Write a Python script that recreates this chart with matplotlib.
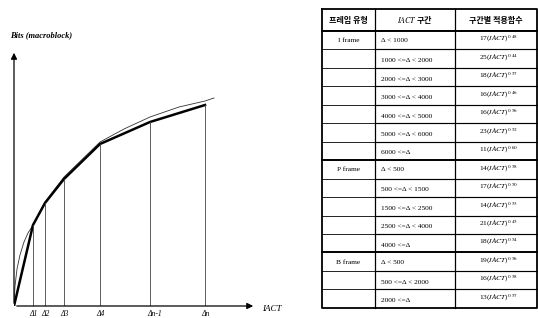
import matplotlib.pyplot as plt

plt.rcParams['font.family'] = ['Liberation Serif', 'Noto Sans CJK KR', 'DejaVu Sans']
plt.rcParams['mathtext.fontset'] = 'stix'

# breakpoints of the piecewise approximation (pixel-ish units)
bp_labels = ['Δ1', 'Δ2', 'Δ3', 'Δ4', 'Δn-1', 'Δn']
bp_x = [19, 31, 50, 86, 136, 191]
bp_y = [81, 103, 127, 162, 184, 201]

# the real (thin) curve
curve_x = [0, 1, 3, 6, 10, 14, 19, 31, 50, 86, 110, 136, 165, 191, 200]
curve_y = [0, 20, 37, 51, 64, 73, 81, 104, 129, 164, 177, 189, 199, 205, 208]

# table contents
header = ['프레임 유형', 'IACT 구간', '구간별 적용함수']
frame_types = ['I frame', '', '', '', '', '', '', 'P frame', '', '', '', '', 'B frame', '', '']
ranges = ['Δ < 1000', '1000 <=Δ < 2000', '2000 <=Δ < 3000', '3000 <=Δ < 4000',
          '4000 <=Δ < 5000', '5000 <=Δ < 6000', '6000 <=Δ',
          'Δ < 500', '500 <=Δ < 1500', '1500 <=Δ < 2500', '2500 <=Δ < 4000', '4000 <=Δ',
          'Δ < 500', '500 <=Δ < 2000', '2000 <=Δ']
coefs = [17, 25, 18, 16, 16, 23, 11, 14, 17, 14, 21, 18, 19, 16, 13]
exps = ['0.48', '0.44', '0.57', '0.46', '0.56', '0.52', '0.60', '0.58',
        '0.50', '0.53', '0.45', '0.54', '0.56', '0.58', '0.57']

W, H = 538, 318
fig = plt.figure(figsize=(W / 100, H / 100), dpi=100)

# ---- left graph ----
ax = fig.add_axes([14 / W, 12 / H, 242 / W, 256 / H])
ax.set_xlim(0, 242)
ax.set_ylim(0, 256)
ax.axis('off')

ax.annotate('', xy=(0, 256), xytext=(0, 0),
            arrowprops=dict(arrowstyle='-|>', color='black', lw=0.9, mutation_scale=9),
            annotation_clip=False)
ax.annotate('', xy=(242, 0), xytext=(0, 0),
            arrowprops=dict(arrowstyle='-|>', color='black', lw=0.9, mutation_scale=9),
            annotation_clip=False)

ax.plot(curve_x, curve_y, color='#333333', lw=0.6)
ax.plot([0] + bp_x, [0] + bp_y, color='black', lw=1.8, solid_joinstyle='round')
for x, y, lab in zip(bp_x, bp_y, bp_labels):
    ax.plot([x, x], [0, y], color='#444444', lw=0.6)
    ax.text(x + (5 if lab == 'Δn-1' else 0), -4, lab, ha='center', va='top',
            fontsize=5.5, style='italic')

ax.text(-4, 271, 'Bits (macroblock)', ha='left', va='center', fontsize=6,
        style='italic', weight='bold')
ax.text(248, -3, 'IACT', ha='left', va='center', fontsize=6.5, style='italic')

# ---- right table ----
tb = fig.add_axes([0, 0, 1, 1])
tb.set_xlim(0, W)
tb.set_ylim(H, 0)
tb.axis('off')

cols = [322, 375, 455, 537]
top, head_bot, row_h = 9, 31, 18.45
n = len(ranges)
bottom = head_bot + n * row_h

# outer border and column lines
tb.plot([cols[0], cols[-1], cols[-1], cols[0], cols[0]],
        [top, top, bottom, bottom, top], color='black', lw=1.3)
for c in cols[1:-1]:
    tb.plot([c, c], [top, bottom], color='black', lw=0.9)
tb.plot([cols[0], cols[-1]], [head_bot - 1.5, head_bot - 1.5], color='black', lw=0.6)
tb.plot([cols[0], cols[-1]], [head_bot, head_bot], color='black', lw=1.4)

for i in range(1, n):
    y = head_bot + i * row_h
    thick = frame_types[i] != ''
    x0 = cols[0] if thick else cols[1]
    if not thick:
        tb.plot([cols[0], cols[1]], [y, y], color='black', lw=0.6)
    tb.plot([x0, cols[-1]], [y, y], color='black', lw=1.4 if thick else 0.85)

hx = [(cols[0] + cols[1]) / 2, (cols[1] + cols[2]) / 2, (cols[2] + cols[3]) / 2]
hy = (top + head_bot) / 2
tb.text(hx[0], hy, header[0], ha='center', va='center', fontsize=5.8,
        weight='bold', family=['Noto Sans CJK KR'])
tb.text(hx[1], hy, '$\\mathit{IACT}$ 구간', ha='center', va='center', fontsize=5.8,
        weight='bold', family=['Noto Sans CJK KR'])
tb.text(hx[2], hy, header[2], ha='center', va='center', fontsize=5.8,
        weight='bold', family=['Noto Sans CJK KR'])

for i in range(n):
    yc = head_bot + (i + 0.5) * row_h
    if frame_types[i]:
        tb.text(hx[0], yc + 0.5, frame_types[i], ha='center', va='center', fontsize=5.3)
    tb.text(cols[1] + 6, yc + (0.5 if i in (0, 7, 12) else 2), ranges[i],
            ha='left', va='center', fontsize=5.3)
    tb.text(hx[2] + 3, yc - 1, f'{coefs[i]}($\\mathit{{IACT}}$)$^{{{exps[i]}}}$',
            ha='center', va='center', fontsize=5.3)

fig.savefig('out.png', dpi=100)
